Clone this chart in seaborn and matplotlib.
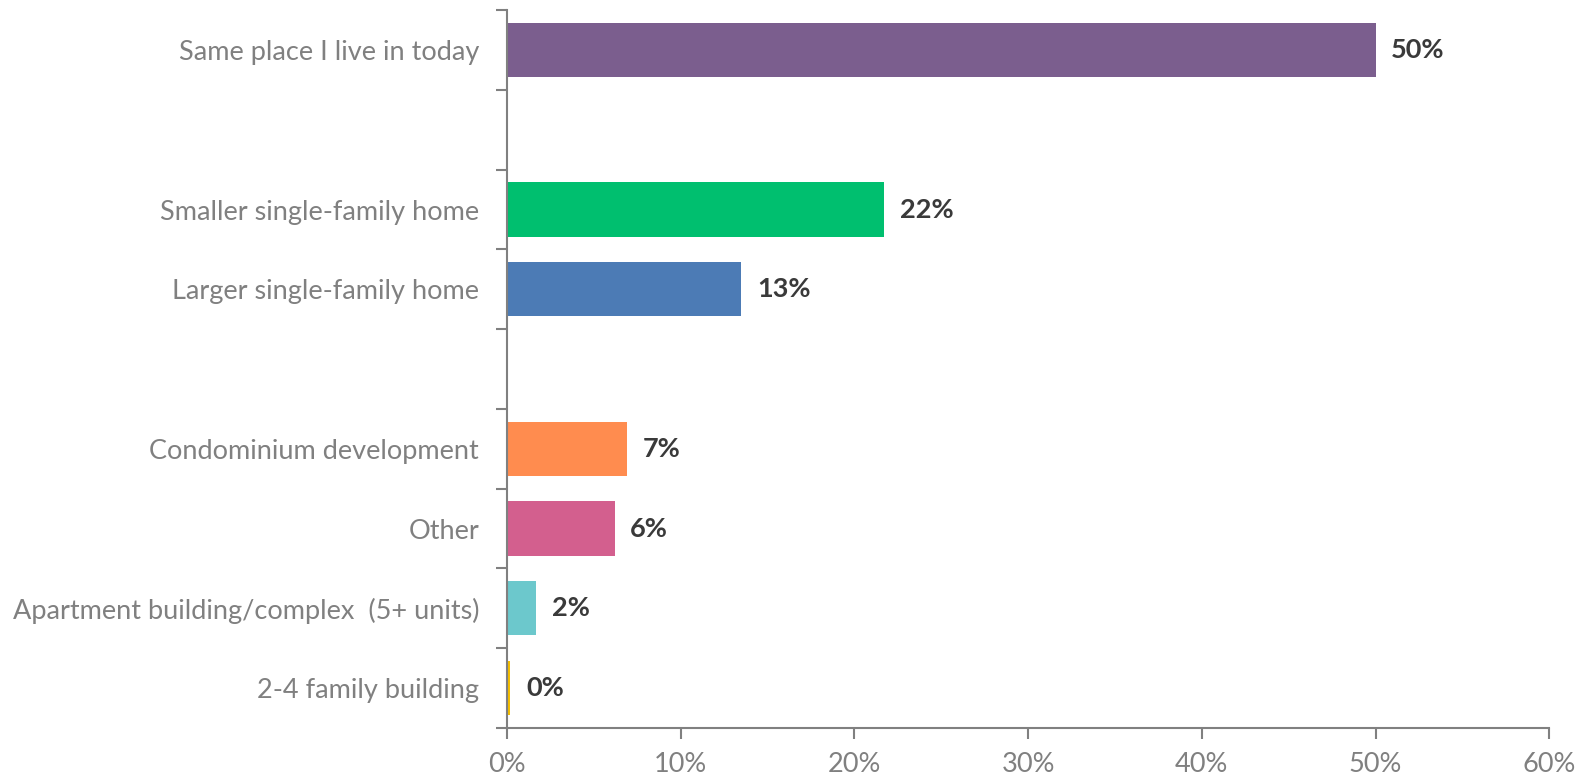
import numpy as np
import pandas as pd
import matplotlib
matplotlib.use("Agg")
import matplotlib.pyplot as plt
import seaborn as sns
from matplotlib.ticker import FixedLocator, PercentFormatter

# data (blank strings are empty spacer rows)
categories = ["Same place I live in today", " ",
              "Smaller single-family home", "Larger single-family home", "  ",
              "Condominium development", "Other",
              "Apartment building/complex  (5+ units)", "2-4 family building"]
values = [50.0, 0, 21.7, 13.5, 0, 6.9, 6.2, 1.7, 0.2]
labels = ["50%", "", "22%", "13%", "", "7%", "6%", "2%", "0%"]
colors = ["#7B5E8E", "#FFFFFF", "#00BF6F", "#4C7BB5", "#FFFFFF",
          "#FF8C4F", "#D35F8E", "#6CC8CC", "#F5BE00"]

df = pd.DataFrame({"category": categories, "value": values})

sns.set_style("white")
plt.rcParams["font.family"] = ["Lato", "DejaVu Sans"]

fig = plt.figure(figsize=(15.89, 7.81), dpi=100)
ax = fig.add_axes([0.319, 0.068, 0.656, 0.919])

sns.barplot(data=df, y="category", x="value", hue="category",
            palette=dict(zip(categories, colors)), order=categories,
            width=0.68, legend=False, linewidth=0, saturation=1, ax=ax)

grey = "#808080"
for i, (v, lab) in enumerate(zip(values, labels)):
    if lab:
        ax.text(v + 0.9, i, lab, va="center", ha="left", fontsize=19.5,
                fontweight="bold", color="#3A3A3A")

ax.set_xlim(0, 60)
ax.set_ylim(len(categories) - 0.5, -0.5)
ax.set_xticks(np.arange(0, 61, 10))
ax.xaxis.set_major_formatter(PercentFormatter(decimals=0))
ax.set_xlabel("")
ax.set_ylabel("")

ax.yaxis.set_minor_locator(FixedLocator(np.arange(-0.5, len(categories), 1)))
ax.tick_params(axis="y", which="major", length=0, pad=20, labelsize=19.5, labelcolor=grey)
ax.tick_params(axis="y", which="minor", length=8, width=1.5, color=grey, left=True)
ax.tick_params(axis="x", which="major", length=8, width=1.5, color=grey, bottom=True,
               labelsize=19.5, labelcolor=grey, pad=9)

for side in ["top", "right"]:
    ax.spines[side].set_visible(False)
for side in ["left", "bottom"]:
    ax.spines[side].set_color(grey)
    ax.spines[side].set_linewidth(1.5)

fig.savefig("out.png", dpi=100)
